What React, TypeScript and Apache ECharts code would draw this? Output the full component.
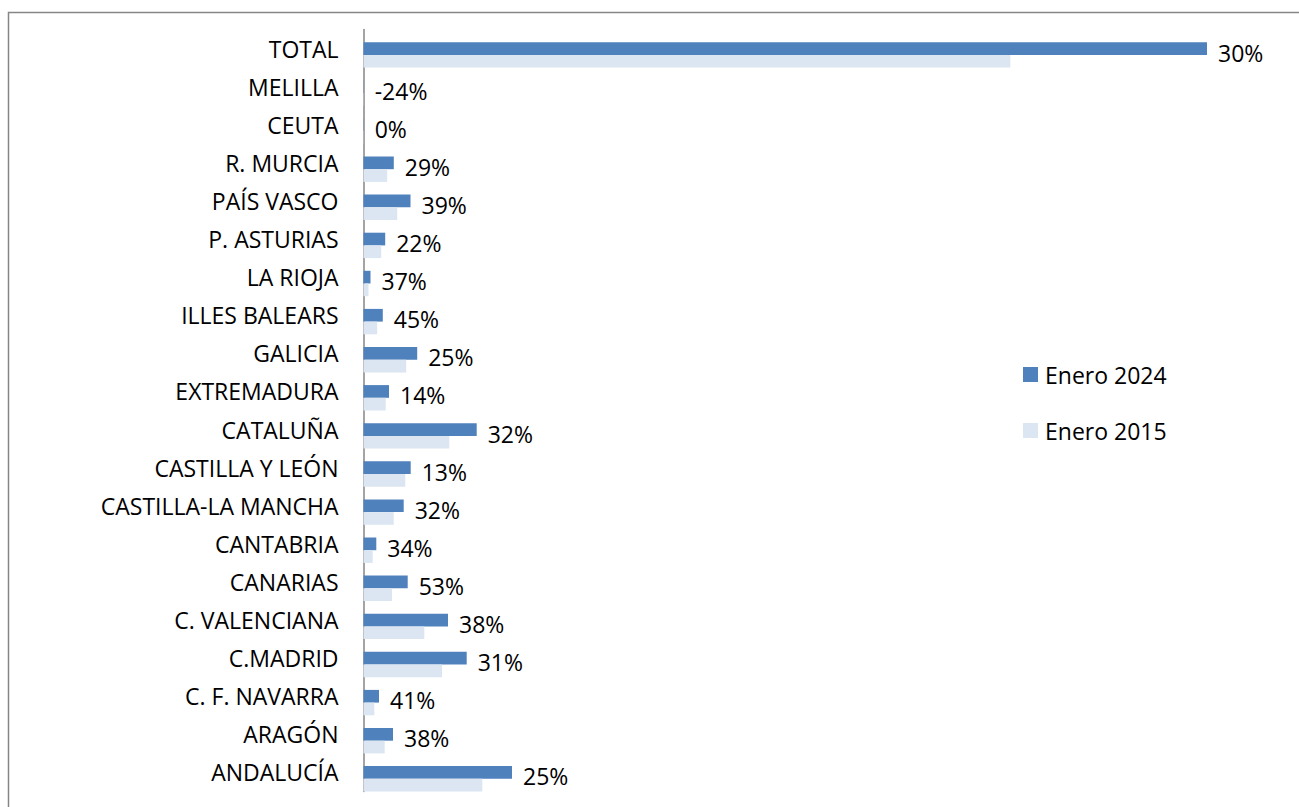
import React, { useEffect, useRef } from "react";
import * as echarts from "echarts";

const categories = [
  "ANDALUCÍA", "ARAGÓN", "C. F. NAVARRA", "C.MADRID", "C. VALENCIANA",
  "CANARIAS", "CANTABRIA", "CASTILLA-LA MANCHA", "CASTILLA Y LEÓN", "CATALUÑA",
  "EXTREMADURA", "GALICIA", "ILLES BALEARS", "LA RIOJA", "P. ASTURIAS",
  "PAÍS VASCO", "R. MURCIA", "CEUTA", "MELILLA", "TOTAL",
];

const enero2024 = [
  148.5, 29.5, 15.5, 103.2, 84.5, 44.2, 12.8, 40.2, 47.2, 113.2,
  25.5, 53.7, 19.3, 7.0, 21.7, 47.0, 30.3, 0.2, 0.19, 843.5,
];

const enero2015 = [
  118.8, 21.2, 10.8, 78.5, 60.8, 28.5, 9.2, 30.2, 41.8, 85.8,
  22.2, 42.7, 13.7, 5.0, 17.7, 33.7, 23.7, 0.2, 0.25, 646.8,
];

const growthLabels = [
  "25%", "38%", "41%", "31%", "38%", "53%", "34%", "32%", "13%", "32%",
  "14%", "25%", "45%", "37%", "22%", "39%", "29%", "0%", "-24%", "30%",
];

const seriesNames = ["Enero 2024", "Enero 2015"];

const FONT = "'Open Sans', 'Noto Sans', sans-serif";

export default function App() {
  const ref = useRef<HTMLDivElement>(null);

  useEffect(() => {
    if (!ref.current) return;
    const chart = echarts.init(ref.current, undefined, { renderer: "svg" });
    chart.setOption({
      animation: false,
      backgroundColor: "#ffffff",
      textStyle: { fontFamily: FONT },
      graphic: [
        {
          type: "rect",
          shape: { x: 8.5, y: 12.5, width: 1400, height: 900 },
          style: { fill: "none", stroke: "#868686", lineWidth: 1.5 },
          silent: true,
        },
      ],
      legend: {
        orient: "vertical",
        left: 1023,
        top: 363,
        padding: 0,
        data: seriesNames,
        itemWidth: 15,
        itemHeight: 15,
        itemGap: 33,
        icon: "rect",
        textStyle: { fontSize: 23, color: "#000", fontFamily: FONT, padding: [0, 0, 0, 2] },
      },
      grid: {
        left: 363.5,
        top: 29.5,
        width: 900,
        height: 762,
        containLabel: false,
      },
      xAxis: {
        type: "value",
        min: 0,
        max: 900,
        show: false,
        splitLine: { show: false },
      },
      yAxis: {
        type: "category",
        data: categories,
        axisLine: { show: true, lineStyle: { color: "#868686", width: 1.5 } },
        axisTick: { show: false },
        axisLabel: { margin: 25, fontSize: 23, color: "#000", fontFamily: FONT },
      },
      series: [
        {
          name: "hidden",
          type: "bar",
          data: categories.map(() => 0),
          barGap: "0%",
          barCategoryGap: "0%",
          itemStyle: { color: "rgba(0,0,0,0)" },
          silent: true,
        },
        {
          name: seriesNames[0],
          type: "bar",
          data: enero2024,
          barGap: "0%",
          barCategoryGap: "0%",
          itemStyle: { color: "#4F81BD" },
          label: {
            show: true,
            position: "right",
            distance: 11,
            offset: [0, 4],
            fontSize: 23,
            color: "#000",
            fontFamily: FONT,
            formatter: (p: any) => growthLabels[p.dataIndex],
          },
        },
        {
          name: seriesNames[1],
          type: "bar",
          data: enero2015,
          barGap: "0%",
          barCategoryGap: "0%",
          itemStyle: { color: "#DCE6F2" },
        },
      ],
    });
    return () => chart.dispose();
  }, []);

  return (
    <div
      ref={ref}
      style={{ position: "absolute", left: 0, top: 0, width: 1299, height: 807, background: "#fff" }}
    />
  );
}
